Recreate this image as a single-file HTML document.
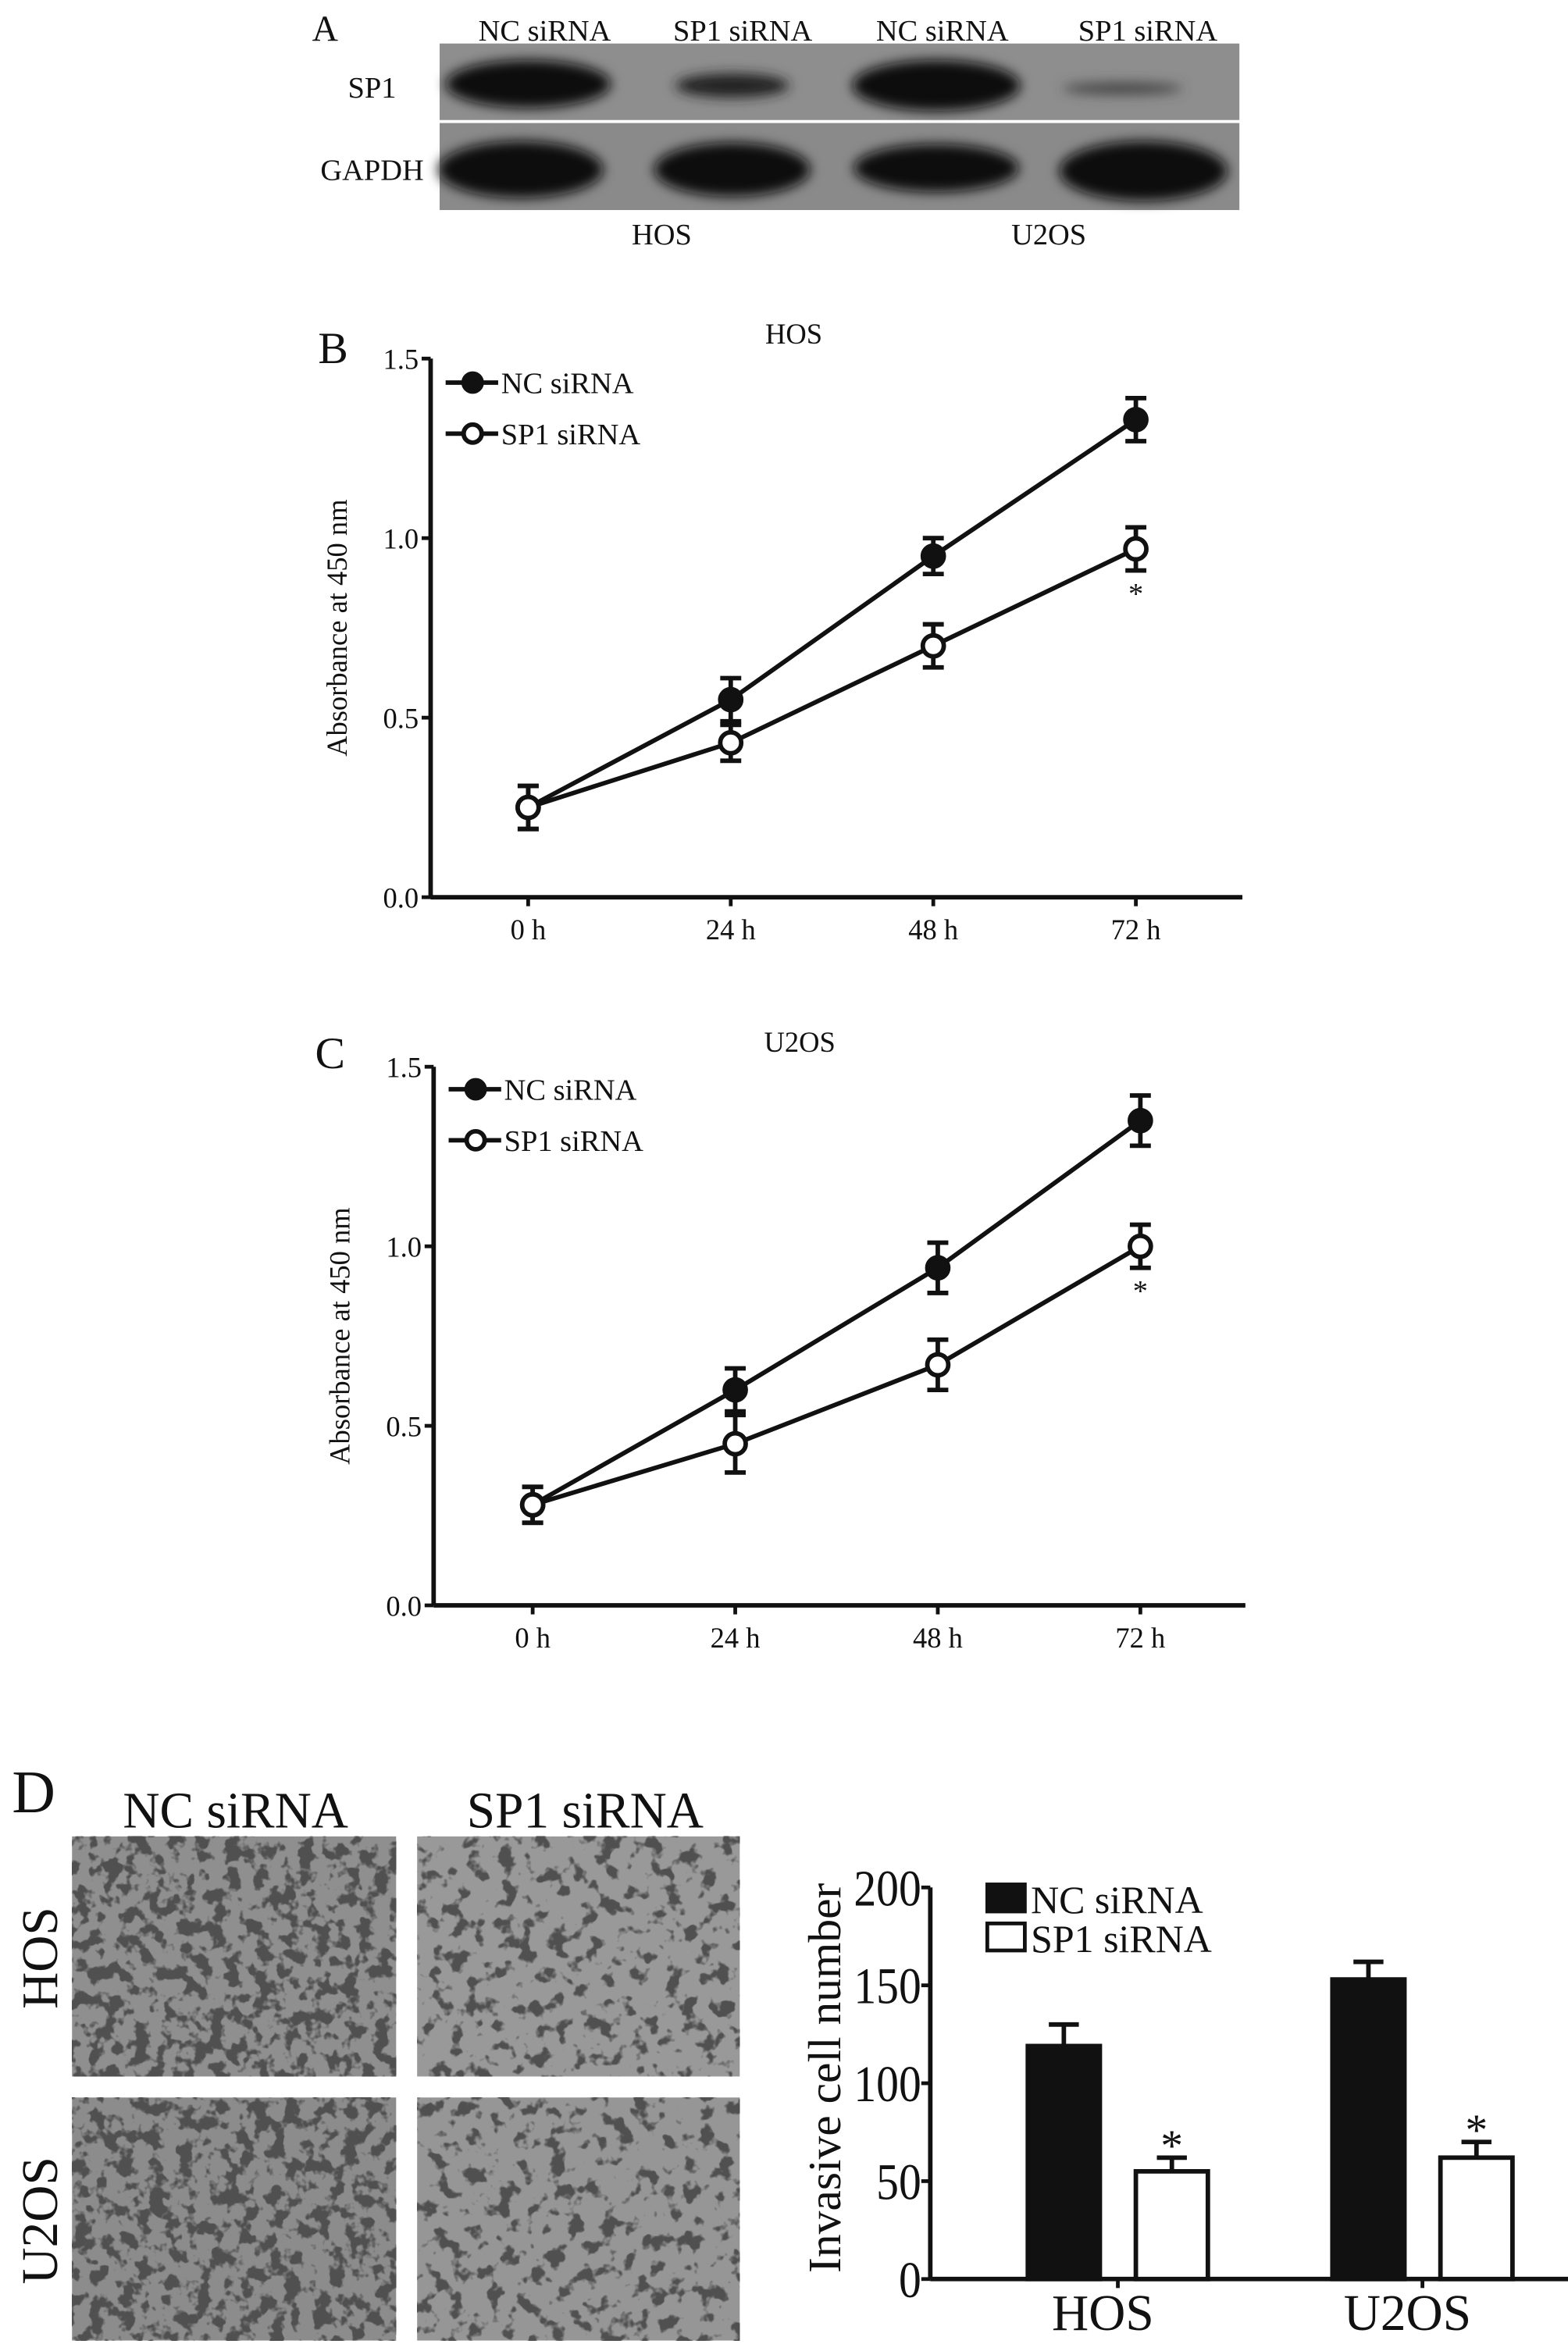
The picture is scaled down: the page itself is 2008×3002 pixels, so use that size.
<!DOCTYPE html>
<html><head><meta charset="utf-8"><style>
html,body{margin:0;padding:0;background:#fff}
svg{display:block}
text{font-family:"Liberation Serif",serif;fill:#111}
</style></head><body>
<svg id="fig" width="2008" height="3002" viewBox="0 0 1045 1562.3" xmlns="http://www.w3.org/2000/svg">
<defs>
<filter id="blur"><feGaussianBlur stdDeviation="4"/></filter>
<filter id="noise" x="0" y="0" width="1" height="1" filterUnits="objectBoundingBox"><feTurbulence type="fractalNoise" baseFrequency="0.1" numOctaves="3" seed="3"/><feColorMatrix type="matrix" values="0 0 0 0 0.08  0 0 0 0 0.08  0 0 0 0 0.08  9 0 0 0 -4.4"/></filter>
<filter id="noise2" x="0" y="0" width="1" height="1" filterUnits="objectBoundingBox"><feTurbulence type="fractalNoise" baseFrequency="0.09" numOctaves="3" seed="8"/><feColorMatrix type="matrix" values="0 0 0 0 0.08  0 0 0 0 0.08  0 0 0 0 0.08  9 0 0 0 -4.9"/></filter>
</defs>
<!-- Panel A -->
<g>
<text x="208" y="27" font-size="24">A</text>
<text x="363" y="27" font-size="20" text-anchor="middle">NC siRNA</text>
<text x="495" y="27" font-size="20" text-anchor="middle">SP1 siRNA</text>
<text x="628" y="27" font-size="20" text-anchor="middle">NC siRNA</text>
<text x="765" y="27" font-size="20" text-anchor="middle">SP1 siRNA</text>
<text x="248" y="65" font-size="20" text-anchor="middle">SP1</text>
<text x="248" y="120" font-size="20" text-anchor="middle">GAPDH</text>
<rect x="293" y="29" width="533" height="51" fill="#8e8e8e"/>
<rect x="293" y="82" width="533" height="58" fill="#8a8a8a"/>
<g filter="url(#blur)" fill="#111">
<ellipse cx="352" cy="56" rx="55" ry="16"/>
<ellipse cx="488" cy="57" rx="38" ry="8" fill="#222"/>
<ellipse cx="624" cy="57" rx="56" ry="17"/>
<ellipse cx="748" cy="59" rx="40" ry="4" fill="#444"/>
<ellipse cx="347" cy="113" rx="55" ry="19"/>
<ellipse cx="488" cy="113" rx="52" ry="18"/>
<ellipse cx="624" cy="112" rx="55" ry="16"/>
<ellipse cx="762" cy="114" rx="56" ry="20"/>
</g>
<text x="441" y="163" font-size="20" text-anchor="middle">HOS</text>
<text x="699" y="163" font-size="20" text-anchor="middle">U2OS</text>
</g>
<g id="chartB"></g>
<g id="chartC"></g>
<!-- Panel D images -->
<g>
<text x="8" y="1208" font-size="40">D</text>
<text x="157" y="1218" font-size="34" text-anchor="middle">NC siRNA</text>
<text x="390" y="1218" font-size="34" text-anchor="middle">SP1 siRNA</text>
<text transform="translate(38,1305) rotate(-90)" font-size="34" text-anchor="middle">HOS</text>
<text transform="translate(38,1480) rotate(-90)" font-size="34" text-anchor="middle">U2OS</text>
<rect x="48" y="1224" width="216" height="160" fill="#8f8f8f"/>
<rect x="48" y="1224" width="216" height="160" filter="url(#noise)"/>
<rect x="278" y="1224" width="215" height="160" fill="#999"/>
<rect x="278" y="1224" width="215" height="160" filter="url(#noise2)"/>
<rect x="48" y="1398" width="216" height="162" fill="#8c8c8c"/>
<rect x="48" y="1398" width="216" height="162" filter="url(#noise)"/>
<rect x="278" y="1398" width="215" height="162" fill="#969696"/>
<rect x="278" y="1398" width="215" height="162" filter="url(#noise2)"/>
</g>
<g id="chartD"></g>
</svg>
<script>
// Panel B data (HOS)
const timeLabels = ["0 h","24 h","48 h","72 h"];
const yTicksLine = [0.0,0.5,1.0,1.5];
const hosNC = [0.25,0.55,0.95,1.33];
const hosNCerr = [0.06,0.06,0.05,0.06];
const hosSP1 = [0.25,0.43,0.70,0.97];
const hosSP1err = [0.06,0.05,0.06,0.06];
// Panel C data (U2OS)
const u2osNC = [0.28,0.60,0.94,1.35];
const u2osNCerr = [0.05,0.06,0.07,0.07];
const u2osSP1 = [0.28,0.45,0.67,1.00];
const u2osSP1err = [0.05,0.08,0.07,0.06];
// Panel D data
const barGroups = ["HOS","U2OS"];
const invNC = [119,153];
const invNCerr = [11,9];
const invSP1 = [55,62];
const invSP1err = [7,8];
const barTicks = [0,50,100,150,200];

const NS="http://www.w3.org/2000/svg";
function mk(parent,tag,attrs,txt){const e=document.createElementNS(NS,tag);for(const k in attrs)e.setAttribute(k,attrs[k]);if(txt!==undefined)e.textContent=txt;parent.appendChild(e);return e;}

function lineChart(gid,o){
  const g=document.getElementById(gid);
  const xs=i=>o.x0+o.dx*i;
  const ys=v=>o.yb-(o.yb-o.yt)*(v/1.5);
  let a=mk(g,'line',{x1:o.ax,y1:o.yt,x2:o.ax,y2:o.yb,stroke:'#111','stroke-width':3});
  
  a=mk(g,'line',{x1:o.ax,y1:o.yb,x2:o.xend,y2:o.yb,stroke:'#111','stroke-width':3});
  
  yTicksLine.forEach(t=>{
    mk(g,'line',{x1:o.ax-6,y1:ys(t),x2:o.ax,y2:ys(t),stroke:'#111','stroke-width':2.5});
    const tx=mk(g,'text',{x:o.ax-8,y:ys(t)+7,'font-size':19,'text-anchor':'end'},t.toFixed(1));
    
    
  });
  timeLabels.forEach((l,i)=>{
    mk(g,'line',{x1:xs(i),y1:o.yb,x2:xs(i),y2:o.yb+6,stroke:'#111','stroke-width':2.5});
    const tx=mk(g,'text',{x:xs(i),y:o.yb+28,'font-size':19,'text-anchor':'middle'},l);
    
    
  });
  let t=mk(g,'text',{x:o.tx,y:o.ty,'font-size':19,'text-anchor':'middle'},o.title);
  
  t=mk(g,'text',{x:o.lx,y:o.ly,'font-size':30},o.letter);
  
  t=mk(g,'text',{transform:`translate(${o.ax-56},${(o.yt+o.yb)/2}) rotate(-90)`,'font-size':19,'text-anchor':'middle'},'Absorbance at 450 nm');
  
  [[o.nc,o.ncErr,true,'nc-sirna'],[o.sp,o.spErr,false,'sp1-sirna']].forEach(([vals,err,filled,nm])=>{
    const s=mk(g,'g',{});
    
    mk(s,'polyline',{points:vals.map((v,i)=>xs(i)+','+ys(v)).join(' '),fill:'none',stroke:'#111','stroke-width':3});
    vals.forEach((v,i)=>{
      const x=xs(i),y1=ys(v+err[i]),y2=ys(v-err[i]);
      const eb=mk(s,'path',{d:`M${x},${y1}V${y2}M${x-7},${y1}H${x+7}M${x-7},${y2}H${x+7}`,stroke:'#111','stroke-width':3,fill:'none'});
      
      
      const p=mk(s,'circle',{cx:x,cy:ys(v),r:7,fill:filled?'#111':'#fff',stroke:'#111','stroke-width':3});
      
      
    });
  });
  t=mk(g,'text',{x:xs(3),y:ys(o.sp[3]-o.spErr[3])+22,'font-size':20,'text-anchor':'middle'},'*');
  
  [['NC siRNA',true,o.ly1],['SP1 siRNA',false,o.ly1+34]].forEach(([l,f,y])=>{
    const lg=mk(g,'g',{});
    
    mk(lg,'line',{x1:o.ax+10,y1:y,x2:o.ax+45,y2:y,stroke:'#111','stroke-width':3});
    mk(lg,'circle',{cx:o.ax+28,cy:y,r:6,fill:f?'#111':'#fff',stroke:'#111','stroke-width':3});
    mk(lg,'text',{x:o.ax+47,y:y+7,'font-size':20},l);
  });
}
lineChart('chartB',{ax:287,x0:352,dx:135,xend:828,yt:239,yb:598,nc:hosNC,ncErr:hosNCerr,sp:hosSP1,spErr:hosSP1err,title:'HOS',tx:529,ty:229,letter:'B',lx:212,ly:242,ly1:255});
lineChart('chartC',{ax:289,x0:355,dx:135,xend:830,yt:711,yb:1070,nc:u2osNC,ncErr:u2osNCerr,sp:u2osSP1,spErr:u2osSP1err,title:'U2OS',tx:533,ty:701,letter:'C',lx:210,ly:712,ly1:726});

(function(){
  const g=document.getElementById('chartD');
  const ax=620,yb=1519,yt=1258,xend=1045;
  const ys=v=>yb-(yb-yt)*v/200;
  const gx=[709,912],bw=48,off=36;
  let a=mk(g,'line',{x1:ax,y1:yt,x2:ax,y2:yb,stroke:'#111','stroke-width':3});
  
  a=mk(g,'line',{x1:ax,y1:yb,x2:xend,y2:yb,stroke:'#111','stroke-width':3});
  
  barTicks.forEach(t=>{
    mk(g,'line',{x1:ax-6,y1:ys(t),x2:ax,y2:ys(t),stroke:'#111','stroke-width':2.5});
    const tx=mk(g,'text',{x:ax-6,y:ys(t)+12,'font-size':34,'text-anchor':'end',textLength:String(t).length*15,lengthAdjust:'spacingAndGlyphs'},t);
    
    
  });
  let t=mk(g,'text',{transform:`translate(560,1385) rotate(-90)`,'font-size':31,'text-anchor':'middle'},'Invasive cell number');
  
  barGroups.forEach((lab,i)=>{
    const c=gx[i]+off;
    mk(g,'line',{x1:c,y1:yb,x2:c,y2:yb+6,stroke:'#111','stroke-width':2.5});
    const tx=mk(g,'text',{x:c-10,y:1553,'font-size':34,'text-anchor':'middle'},lab);
    
    
    [[invNC,invNCerr,'#111',0,'nc'],[invSP1,invSP1err,'#fff',72,'sp1']].forEach(([v,e,fill,dx,nm])=>{
      const x=gx[i]-24+dx;
      mk(g,'line',{x1:x+bw/2,y1:ys(v[i]),x2:x+bw/2,y2:ys(v[i]+e[i]),stroke:'#111','stroke-width':3});
      mk(g,'line',{x1:x+bw/2-10,y1:ys(v[i]+e[i]),x2:x+bw/2+10,y2:ys(v[i]+e[i]),stroke:'#111','stroke-width':3});
      const b=mk(g,'rect',{x:x,y:ys(v[i]),width:bw,height:yb-ys(v[i]),fill:fill,stroke:'#111','stroke-width':3});
      
      
      if(nm==='sp1'){
        const s=mk(g,'text',{x:x+bw/2,y:ys(v[i]+e[i])+2,'font-size':30,'text-anchor':'middle'},'*');
        
        
      }
    });
  });
  [['NC siRNA','#111',1255],['SP1 siRNA','#fff',1281]].forEach(([l,f,y])=>{
    const lg=mk(g,'g',{});
    
    mk(lg,'rect',{x:658,y:y+1,width:25,height:18,fill:f,stroke:'#111','stroke-width':2.5});
    mk(lg,'text',{x:687,y:y+20,'font-size':26},l);
  });
})();
</script>
</body></html>
